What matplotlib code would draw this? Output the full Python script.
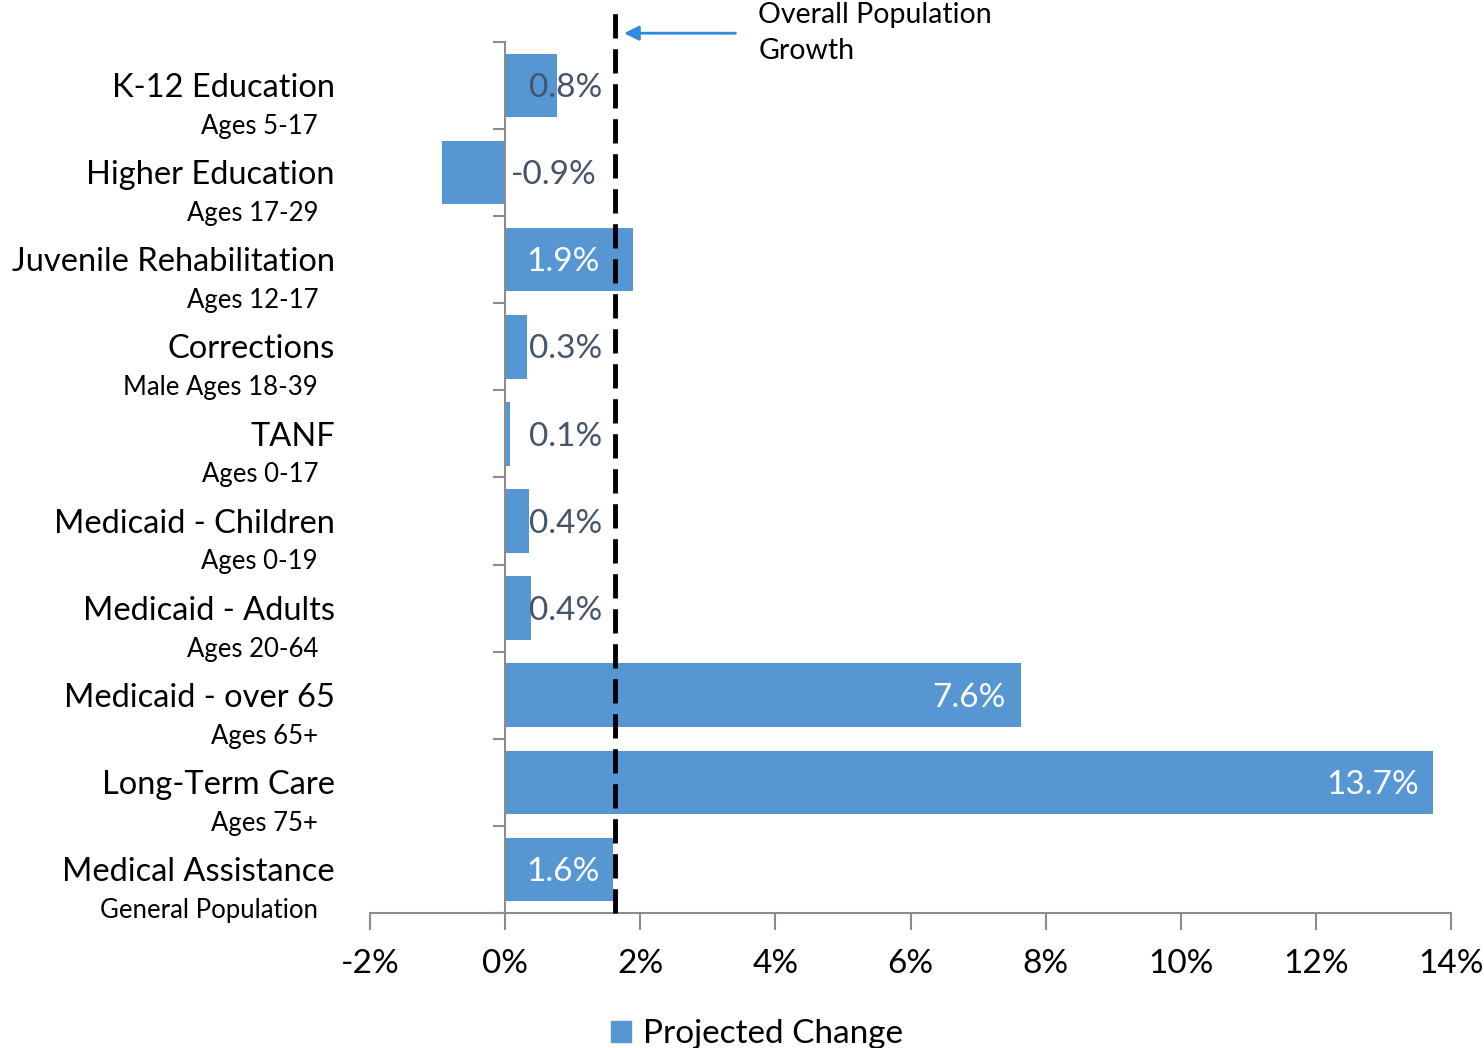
import matplotlib
matplotlib.use("Agg")
import matplotlib.pyplot as plt
import matplotlib.transforms as mtransforms
from matplotlib.patches import Patch

programs = ["K-12 Education", "Higher Education", "Juvenile Rehabilitation", "Corrections",
            "TANF", "Medicaid - Children", "Medicaid - Adults", "Medicaid - over 65",
            "Long-Term Care", "Medical Assistance"]
age_groups = ["Ages 5-17", "Ages 17-29", "Ages 12-17", "Male Ages 18-39", "Ages 0-17",
              "Ages 0-19", "Ages 20-64", "Ages 65+", "Ages 75+", "General Population"]
projected_change = [0.77, -0.94, 1.89, 0.32, 0.07, 0.36, 0.38, 7.63, 13.74, 1.60]
overall_growth = 1.62
x_ticks = [-2, 0, 2, 4, 6, 8, 10, 12, 14]

BAR_COLOR = "#5596D3"
LABEL_DARK = "#44546A"
AXIS_GRAY = "#8C8C8C"

plt.rcParams["font.family"] = ["Lato", "DejaVu Sans"]

fig = plt.figure(figsize=(14.84, 10.48), dpi=100)
ax = fig.add_axes([0.2493, 0.1288, 0.7285, 0.8312])

y = list(range(len(programs)))
ax.barh(y, projected_change, height=0.73, color=BAR_COLOR, zorder=2)

ax.set_xlim(-2, 14)
ax.set_ylim(9.5, -0.5)

# spines and ticks
for side in ["top", "right"]:
    ax.spines[side].set_visible(False)
ax.spines["left"].set_position(("data", 0))
ax.spines["left"].set_color(AXIS_GRAY)
ax.spines["left"].set_linewidth(1.5)
ax.spines["bottom"].set_color(AXIS_GRAY)
ax.spines["bottom"].set_linewidth(1.5)
ax.set_yticks([i - 0.5 for i in range(len(programs) + 1)])
ax.set_yticklabels([])
ax.tick_params(axis="y", direction="out", length=9, width=1.5, color=AXIS_GRAY)
ax.set_xticks(x_ticks)
ax.set_xticklabels([f"{t}%" for t in x_ticks], fontsize=24)
ax.tick_params(axis="x", direction="out", length=12, width=1.5, color=AXIS_GRAY, pad=14)

# category labels at the far left
trans = mtransforms.blended_transform_factory(fig.transFigure, ax.transData)
for i, (name, ages) in enumerate(zip(programs, age_groups)):
    ax.text(0.2257, i + 0.03, name, transform=trans, ha="right", va="center", fontsize=23.5, color="black")
    ax.text(0.2143, i + 0.47, ages, transform=trans, ha="right", va="center", fontsize=18.5, color="black")

# data labels
for i, v in enumerate(projected_change):
    lbl = f"{v:.1f}%"
    if v > 3:
        ax.text(v - 0.22, i + 0.03, lbl, ha="right", va="center", fontsize=24, color="white", zorder=4)
    elif v < 0:
        ax.text(0.72, i + 0.03, lbl, ha="center", va="center", fontsize=24, color=LABEL_DARK, zorder=4)
    elif v >= 1.5:
        ax.text(0.86, i + 0.03, lbl, ha="center", va="center", fontsize=24, color="white", zorder=4)
    else:
        ax.text(0.9, i + 0.03, lbl, ha="center", va="center", fontsize=24, color=LABEL_DARK, zorder=4)

# overall population growth line
ax.axvline(overall_growth, ymin=0, ymax=1.04, color="black", linewidth=3.5,
           linestyle=(0, (5, 2.2)), clip_on=False, zorder=3)
ax.annotate("", xy=(overall_growth + 0.1, -0.6), xytext=(3.45, -0.6),
            arrowprops=dict(arrowstyle="-|>", color="#2E8BDE", lw=2, mutation_scale=22),
            annotation_clip=False)
ax.text(3.75, -0.6, "Overall Population\nGrowth", ha="left", va="center", fontsize=20.5,
        linespacing=1.45, color="black")

fig.legend(handles=[Patch(color=BAR_COLOR, label="Projected Change")], loc="lower center",
           bbox_to_anchor=(0.51, -0.03), frameon=False, fontsize=24, handlelength=0.6,
           handleheight=0.6, handletextpad=0.35)

fig.savefig("out.png", dpi=100)
